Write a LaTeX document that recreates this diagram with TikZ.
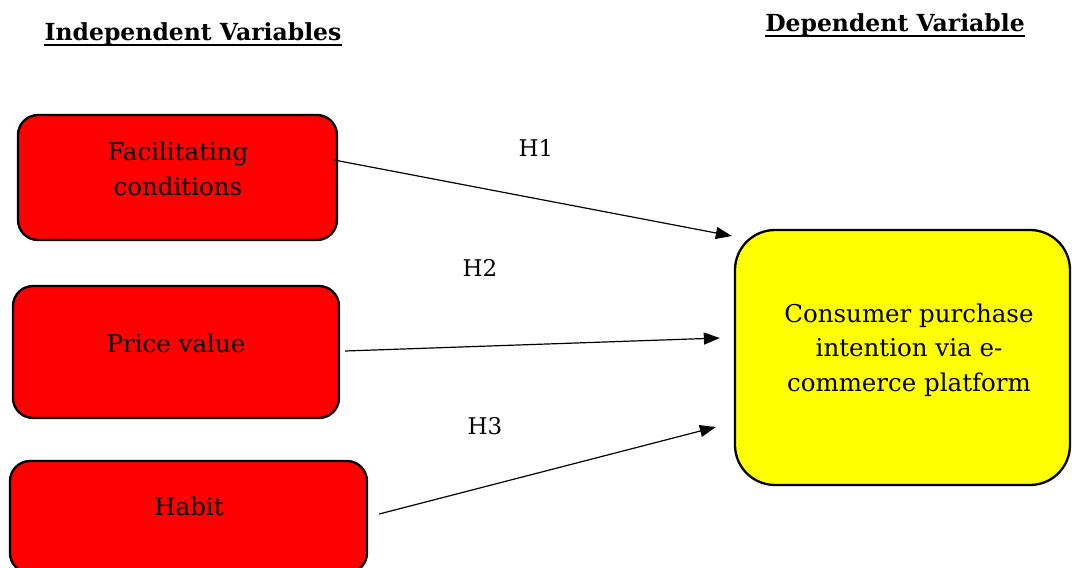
\documentclass[tikz,border=0pt]{standalone}
\usepackage{fontspec}
\setmainfont{DejaVu Serif}
\usetikzlibrary{arrows.meta,calc}
\definecolor{boxred}{RGB}{255,0,0}
\definecolor{boxyel}{RGB}{255,255,0}
\begin{document}
\begin{tikzpicture}[x=1pt,y=-1pt,
  redbox/.style={draw=black,line width=2.3pt,fill=boxred,rounded corners=20pt,inner sep=0pt},
  yelbox/.style={draw=black,line width=2.3pt,fill=boxyel,rounded corners=40pt,inner sep=0pt},
  txt/.style={align=center,inner sep=0pt,font=\fontsize{24.5}{34.5}\selectfont},
  arr/.style={line width=1.2pt,-{Triangle[length=16pt,width=12pt]}},
  hlab/.style={font=\fontsize{23}{27}\selectfont},
  title/.style={inner sep=0pt,font=\bfseries\fontsize{23.5}{27}\selectfont},
  uline/.style={line width=2pt}]
\useasboundingbox (0,0) rectangle (1072,568);
\begin{scope}
\clip (0,0) rectangle (1072,568);
\node[title,anchor=base] (iv) at (193,40) {Independent Variables};
\draw[uline] ([yshift=-4.5pt]iv.base west) -- ([yshift=-4.5pt]iv.base east);
\node[title,anchor=base] (dvt) at (895,31) {Dependent Variable};
\draw[uline] ([yshift=-4.5pt]dvt.base west) -- ([yshift=-4.5pt]dvt.base east);
\node[redbox,minimum width=319pt,minimum height=125pt] (b1) at (177.5,177.5) {};
\node[txt] (b1t) at (178,169) {Facilitating\\conditions};
\node[redbox,minimum width=326pt,minimum height=132pt] (b2) at (176,352) {};
\node[txt] (b2t) at (176,343) {Price value};
\node[redbox,minimum width=357pt,minimum height=112pt] (b3) at (188.5,517) {};
\node[txt] (b3t) at (189,506) {Habit};
\node[yelbox,minimum width=335pt,minimum height=255pt] (dv) at (902.5,357.5) {};
\node[txt] (dvtx) at (909,350) {Consumer purchase\\intention via e-\\commerce platform};
\node[hlab] (h1) at (536,148) {H1};
\node[hlab] (h2) at (480,268) {H2};
\node[hlab] (h3) at (485,426) {H3};
\draw[arr] ([xshift=-4pt,yshift=17.5pt]b1.east) -- ([xshift=-2pt,yshift=121.5pt]dv.west);
\draw[arr] ([xshift=5pt,yshift=1pt]b2.east) -- ([xshift=-14pt,yshift=19.5pt]dv.west);
\draw[arr] ([xshift=11pt,yshift=3pt]b3.east) -- ([xshift=-18pt,yshift=-69.5pt]dv.west);
\end{scope}
\end{tikzpicture}
\end{document}
